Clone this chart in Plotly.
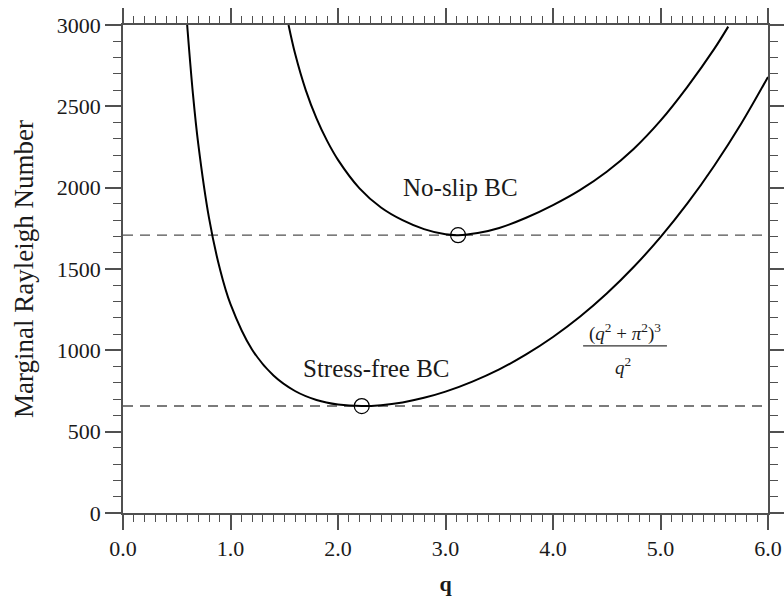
import plotly.graph_objects as go

# Marginal stability curves for Rayleigh-Benard convection
q_free = [0.595, 0.60, 0.65, 0.70, 0.80, 0.90, 1.00, 1.20, 1.40, 1.60, 1.80, 2.00,
          2.22, 2.40, 2.60, 2.80, 3.00, 3.25, 3.50, 3.75, 4.00, 4.25, 4.50, 4.75,
          5.00, 5.25, 5.50, 5.75, 6.00]
ra_free = [3018, 2974, 2580, 2269, 1814, 1504, 1284, 1005, 845, 750, 695, 667,
           657.5, 663, 680, 708, 746, 808, 883, 975, 1082, 1206, 1349, 1512,
           1696, 1903, 2135, 2393, 2681]

q_rigid = [1.54, 1.60, 1.70, 1.80, 1.90, 2.00, 2.20, 2.40, 2.60, 2.80, 3.00, 3.117,
           3.30, 3.50, 3.75, 4.00, 4.25, 4.50, 4.75, 5.00, 5.25, 5.50, 5.63]
ra_rigid = [3000, 2826, 2600, 2426, 2286, 2171, 1996, 1878, 1800, 1745, 1713, 1708,
            1721, 1752, 1815, 1893, 1985, 2098, 2238, 2412, 2620, 2853, 2990]

# Critical points (q_c, Ra_c)
crit_q = [3.117, 2.221]
crit_ra = [1708, 657.5]

x_range = [0, 6]
y_range = [0, 3000]

serif = "Liberation Serif, Times New Roman, serif"
axis_col = "#505050"
text_col = "#1a1a1a"

fig = go.Figure()

# horizontal reference lines at the critical Rayleigh numbers
for ra in crit_ra:
    fig.add_trace(go.Scatter(x=x_range, y=[ra, ra], mode="lines",
                             line=dict(color="#505050", width=1.4, dash="10px,7px"),
                             hoverinfo="skip", showlegend=False))

fig.add_trace(go.Scatter(x=q_free, y=ra_free, mode="lines",
                         line=dict(color="black", width=2, shape="spline", smoothing=1),
                         showlegend=False))
fig.add_trace(go.Scatter(x=q_rigid, y=ra_rigid, mode="lines",
                         line=dict(color="black", width=2, shape="spline", smoothing=1),
                         showlegend=False))
fig.add_trace(go.Scatter(x=crit_q, y=crit_ra, mode="markers",
                         marker=dict(symbol="circle-open", size=15, color="black",
                                     line=dict(width=1.2)),
                         showlegend=False))

annot_font = dict(family=serif, size=25, color=text_col)
fig.add_annotation(x=3.135, y=1998, text="No-slip BC", showarrow=False,
                   font=annot_font, xanchor="center", yanchor="middle")
fig.add_annotation(x=2.36, y=891, text="Stress-free BC", showarrow=False,
                   font=annot_font, xanchor="center", yanchor="middle")

frac_font = dict(family=serif, size=19, color=text_col)
fig.add_annotation(x=4.67, y=1110,
                   text="(<i>q</i><sup>2</sup> + <i>π</i><sup>2</sup>)<sup>3</sup>",
                   showarrow=False, font=frac_font, xanchor="center", yanchor="middle")
fig.add_annotation(x=4.65, y=905, text="<i>q</i><sup>2</sup>",
                   showarrow=False, font=frac_font, xanchor="center", yanchor="middle")
fig.add_shape(type="line", x0=4.28, x1=5.06, y0=1027, y1=1027, xref="x", yref="y",
              line=dict(color="#333333", width=1.2))

tick_font = dict(family=serif, size=22, color=text_col)
fig.update_xaxes(range=x_range, dtick=1, tickformat=".1f", ticks="outside",
                 ticklen=15, tickwidth=1.5, tickcolor=axis_col,
                 showline=True, linecolor=axis_col, linewidth=1.5, mirror="ticks",
                 showgrid=False, zeroline=False, tickfont=tick_font, automargin=False,
                 minor=dict(dtick=0.1, ticks="outside", ticklen=7, tickwidth=1.2,
                            tickcolor=axis_col, showgrid=False),
                 title=dict(text="<b>q</b>", font=dict(family=serif, size=22, color=text_col)))
fig.update_yaxes(range=y_range, dtick=500, ticks="outside",
                 ticklen=16, tickwidth=1.5, tickcolor=axis_col,
                 showline=True, linecolor=axis_col, linewidth=1.5, mirror="ticks",
                 showgrid=False, zeroline=False, tickfont=tick_font, automargin=False,
                 minor=dict(dtick=100, ticks="outside", ticklen=8, tickwidth=1.2,
                            tickcolor=axis_col, showgrid=False),
                 title=dict(text="Marginal Rayleigh Number",
                            font=dict(family=serif, size=27, color=text_col)))

fig.update_layout(width=784, height=596, margin=dict(l=123, r=16, t=25, b=83),
                  plot_bgcolor="white", paper_bgcolor="white")

fig.write_html("out.html")
